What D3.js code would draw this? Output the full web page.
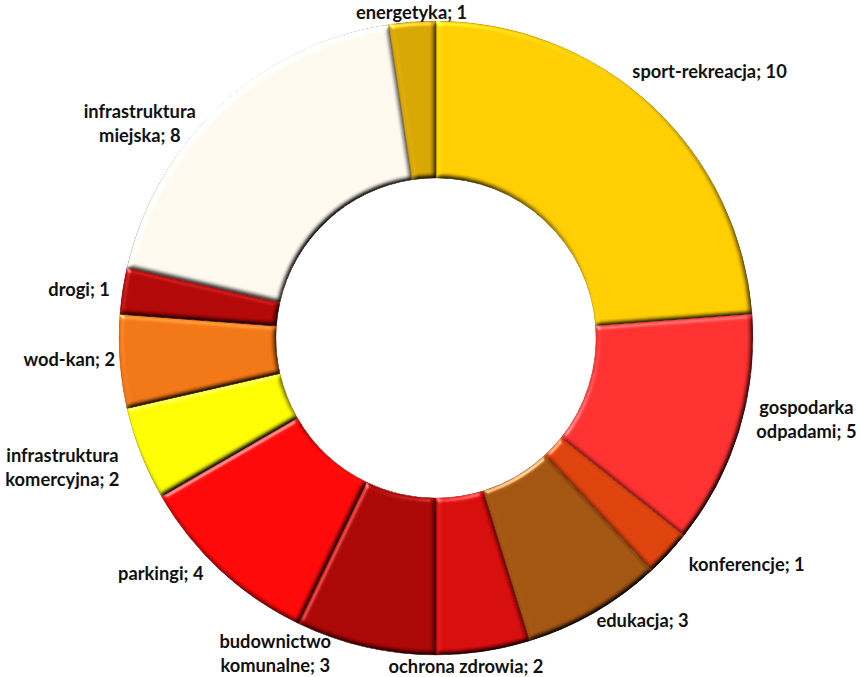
<!DOCTYPE html>
<html>
<head>
<meta charset="utf-8">
<script src="https://cdn.jsdelivr.net/npm/d3@7"></script>
<style>
  html, body { margin: 0; padding: 0; background: #fff; }
  svg { display: block; }
  .lbl { font-family: Lato, "Open Sans", sans-serif; font-weight: 700; font-size: 18.3px; fill: #111; }
</style>
</head>
<body>
<svg id="chart" width="861" height="677"></svg>
<script>
// Slices, clockwise from 12 o'clock
const categories = [
  ["sport-rekreacja; 10"],
  ["gospodarka", "odpadami; 5"],
  ["konferencje; 1"],
  ["edukacja; 3"],
  ["ochrona zdrowia; 2"],
  ["budownictwo", "komunalne; 3"],
  ["parkingi; 4"],
  ["infrastruktura", "komercyjna; 2"],
  ["wod-kan; 2"],
  ["drogi; 1"],
  ["infrastruktura", "miejska; 8"],
  ["energetyka; 1"]
];
const values = [10, 5, 1, 3, 2, 3, 4, 2, 2, 1, 8, 1];
const colors = [
  "#fecb00", "#ff2e2e", "#db400b", "#a0520f", "#d40b0b", "#a80404",
  "#fc0606", "#fbf900", "#ef7414", "#b00505", "#fdf6ec", "#d6a400"
];
// hand nudges so labels sit where Excel put them (avoids overlaps)
const labelNudge = [
  [0, -18], [12, -20], [30, -1], [21, -8], [-30, -4], [-76, -24],
  [-25, -10], [-18, 3], [3, -2], [-5, 3], [-37, 43], [4, 12]
];

const cx = 436, cy = 338, R = 317, r0 = 160, lineH = 24;

const svg = d3.select("#chart");
const defs = svg.append("defs");

/* Soft bevel: specular highlight on the top-left edges, diffuse darkening on the rest */
const f = defs.append("filter").attr("id", "bevel")
  .attr("color-interpolation-filters", "sRGB")
  .attr("x", "-5%").attr("y", "-5%").attr("width", "110%").attr("height", "110%");
f.append("feGaussianBlur").attr("in", "SourceAlpha").attr("stdDeviation", 2.8).attr("result", "blur");
f.append("feDiffuseLighting").attr("in", "blur").attr("surfaceScale", 3)
  .attr("diffuseConstant", 1.42).attr("lighting-color", "#fff").attr("result", "diff")
  .append("feDistantLight").attr("azimuth", 235).attr("elevation", 45);
f.append("feSpecularLighting").attr("in", "blur").attr("surfaceScale", 3)
  .attr("specularConstant", 0.55).attr("specularExponent", 24).attr("lighting-color", "#fff").attr("result", "spec")
  .append("feDistantLight").attr("azimuth", 235).attr("elevation", 30);
f.append("feComposite").attr("in", "SourceGraphic").attr("in2", "diff")
  .attr("operator", "arithmetic").attr("k1", 1).attr("result", "shaded");
f.append("feComposite").attr("in", "spec").attr("in2", "SourceAlpha").attr("operator", "in").attr("result", "specIn");
f.append("feComposite").attr("in", "shaded").attr("in2", "specIn")
  .attr("operator", "arithmetic").attr("k2", 1).attr("k3", 1).attr("result", "lit");
f.append("feComposite").attr("in", "lit").attr("in2", "SourceAlpha").attr("operator", "in");

const pie = d3.pie().sort(null).value(d => d)(values);
const arc = d3.arc().innerRadius(r0).outerRadius(R);

const g = svg.append("g").attr("transform", `translate(${cx},${cy})`);

g.selectAll("path.slice").data(pie).join("path")
  .attr("class", "slice")
  .attr("d", arc)
  .attr("fill", (d, i) => colors[i])
  .attr("stroke", (d, i) => d3.color(colors[i]).darker(0.9))
  .attr("stroke-width", 0.8)
  .attr("filter", "url(#bevel)");

// Outside-end labels
const labels = g.selectAll("text.lbl").data(pie).join("text")
  .attr("class", "lbl")
  .attr("text-anchor", "middle");

labels.each(function (d, i) {
  const t = d3.select(this);
  const lines = categories[i];
  lines.forEach((s, k) => t.append("tspan").attr("x", 0).attr("dy", k ? lineH : 0).text(s));
  const w = d3.max(t.selectAll("tspan").nodes(), n => n.getComputedTextLength());
  const h = lineH * lines.length;
  const a = (d.startAngle + d.endAngle) / 2;
  const ux = Math.sin(a), uy = -Math.cos(a);
  const px = (R + 8) * ux + ux * w / 2 + labelNudge[i][0];
  const py = (R + 8) * uy + uy * h / 2 + labelNudge[i][1];
  // first baseline: center minus half block, plus ascent
  const y0 = py - h / 2 + lineH * 0.72;
  t.attr("transform", `translate(${px},${y0})`);
});
</script>
</body>
</html>
